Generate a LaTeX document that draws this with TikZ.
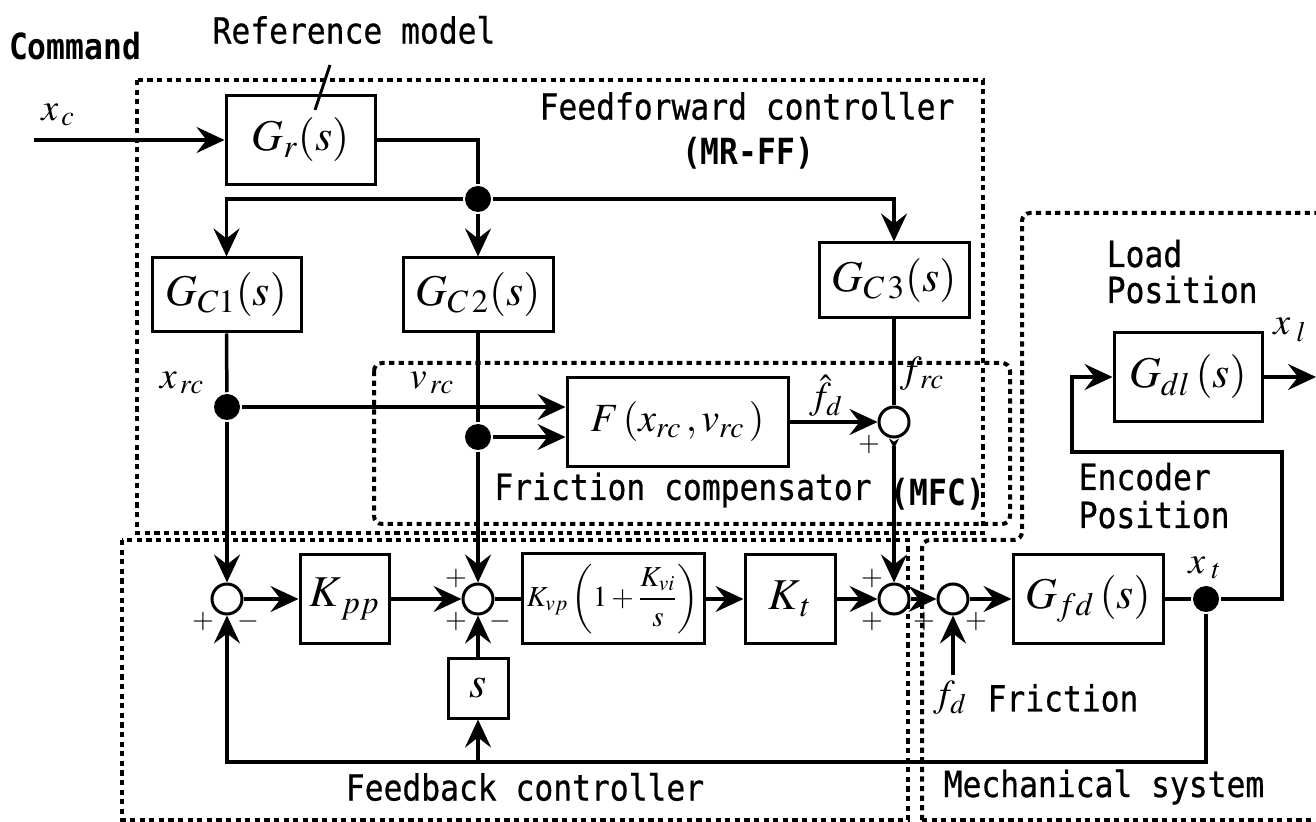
\documentclass[tikz,border=0pt]{standalone}
\usepackage{mathptmx}
\usepackage[no-math]{fontspec}
\newfontfamily\lab[FakeStretch=0.87,FakeBold=0.6]{DejaVu Sans Mono}
\newfontfamily\labb[FakeStretch=0.87]{DejaVu Sans Mono Bold}
\usetikzlibrary{arrows.meta}

\begin{document}
\begin{tikzpicture}[x=0.5pt,y=-0.5pt,line width=1.75pt,
    >={Stealth[length=14pt,width=13pt,inset=5pt]},
    blk/.style={draw,line width=1.5pt,inner sep=0pt,font=\fontsize{22}{26}\selectfont},
    sum/.style={draw,circle,fill=white,line width=1.5pt,minimum size=15pt,inner sep=0pt},
    dot/.style={fill,circle,minimum size=13pt,inner sep=0pt},
    grp/.style={line width=2pt,dash pattern=on 2.6pt off 2.2pt},
    lbl/.style={font=\fontsize{18}{19}\selectfont\lab,inner sep=0pt},
    lblb/.style={font=\fontsize{18}{19}\selectfont\labb,inner sep=0pt},
    var/.style={font=\fontsize{19}{22}\selectfont,inner sep=0pt},
    sgn/.style={font=\fontsize{14}{16}\selectfont,inner sep=0pt}]

\useasboundingbox (0,0) rectangle (1316,822);
\fill[white] (0,0) rectangle (1316,822);

\draw[grp] (137,80) rectangle (983,533);
\draw[grp,rounded corners=4pt] (374,363) rectangle (1010,524);
\draw[grp] (122,540) rectangle (908,820);
\draw[grp,rounded corners=4pt] (922,820) -- (922,540) -- (1022,540) -- (1022,213) -- (1320,213);
\draw[grp] (922,820) -- (1320,820);

\node[blk,minimum width=74.5pt,minimum height=44.5pt] (gr)  at (300.5,140) {$G_{r}(s)$};
\node[blk,minimum width=74.5pt,minimum height=37pt]   (gc1) at (226.5,295) {$G_{C1}(s)$};
\node[blk,minimum width=75pt,minimum height=37pt]     (gc2) at (478,295)   {$G_{C\,2}(s)$};
\node[blk,minimum width=75pt,minimum height=37.5pt]   (gc3) at (894,280.5) {$G_{C\,3}(s)$};
\node[blk,minimum width=110.5pt,minimum height=44.5pt,font=\fontsize{20}{24}\selectfont] (fr) at (677.5,422) {$F\,(x_{rc}\,,v_{rc}\,)$};
\node[blk,minimum width=44.5pt,minimum height=44.5pt] (kpp) at (344.5,599) {$K_{\,pp}$};
\node[blk,minimum width=91pt,minimum height=45pt,font=\fontsize{14.5}{17}\selectfont] (kvp) at (613,599) {$K_{vp}\left(1+\displaystyle\frac{K_{vi}}{s}\right)$};
\node[blk,minimum width=45pt,minimum height=44.5pt]   (kt)  at (790,599)   {$K_{\,t}$};
\node[blk,minimum width=75pt,minimum height=44.5pt]   (gfd) at (1088,599)  {$G_{fd}\,(s)$};
\node[blk,minimum width=74pt,minimum height=44.5pt]   (gdl) at (1188,377)  {$G_{dl}\,(s)$};
\node[blk,minimum width=30pt,minimum height=30pt]     (sb)  at (478,688)   {$s$};

\foreach \n/\x in {s1/227,s2/478,s3/894,s4/953}
    \node[sum] (\n) at (\x,599) {};
\node[sum] (s5) at (894,422) {};

\foreach \n/\x/\y in {d1/478/199,dxr/227/407,dvr/478/437,xt/1206/599}
    \node[dot] (\n) at (\x,\y) {};

\coordinate (xin) at (34,140);
\coordinate (xlo) at (1316,377);
\coordinate (fd)  at (953,675);
\coordinate (fbl) at (227,762);
\coordinate (e1)  at (1282,452);
\coordinate (e2)  at (1072,452);
\coordinate (p1)  at (330,65);
\coordinate (p2)  at (315,110);

\draw[->] (xin) -- (gr.west);
\draw (gr.east) -| (d1);
\draw[->] (d1) -| (gc1.north);
\draw[->] (d1) -- (gc2.north);
\draw[->] (d1) -| (gc3.north);
\draw (gc1.south) -- (dxr);
\draw (gc2.south) -- (dvr);
\draw[->] (dxr) -- (dxr -| fr.west);
\draw[->] (dvr) -- (dvr -| fr.west);
\draw[->] (dxr) -- (s1.north);
\draw[->] (dvr) -- (s2.north);
\draw[->] (fr.east) -- (s5.west);
\draw (gc3.south) -- (s5.north);
\draw[{Stealth[reversed,length=5pt,width=5pt]}->] (s5.south) -- (s3.north);
\draw[->] (s1) -- (kpp);
\draw[->] (kpp) -- (s2);
\draw (s2) -- (kvp);
\draw[->] (kvp) -- (kt);
\draw[->] (kt) -- (s3);
\draw[->] (s3) -- (s4);
\draw[->] (s4) -- (gfd);
\draw[->] (fd) -- (s4.south);
\draw (gfd) -- (xt);
\draw[->] (xt) |- (fbl) -- (s1.south);
\draw[->] (sb.south |- fbl) -- (sb.south);
\draw[->] (sb) -- (s2.south);
\draw[->] (xt) -| (e1) -- (e2) |- (gdl.west);
\draw[->] (gdl.east) -- (xlo);
\draw[line width=1.5pt] (p1) -- (p2);

\node[lblb] (cmd)  at (75,46)   {Command};
\node[lbl]  (refm) at (354,30)  {Reference model};
\node[lbl]  (ffc)  at (747,106) {Feedforward controller};
\node[lblb] (mrff) at (748,153) {(MR-FF)};
\node[lbl]  (fcomp) at (683,490) {Friction compensator};
\node[lblb] (mfc)  at (938,494) {(MFC)};
\node[lbl,anchor=base west] (load) at (1105,267) {Load};
\node[lbl,anchor=base west] (lpos) at (1105,303) {Position};
\node[lbl,anchor=base west] (enc)  at (1077,490) {Encoder};
\node[lbl,anchor=base west] (epos) at (1077,528) {Position};
\node[lbl] (fbc)  at (525,787)  {Feedback controller};
\node[lbl] (mech) at (1104,787) {Mechanical system};
\node[lbl] (fric) at (1063,698) {Friction};

\node[var] (vxc)  at (58,115)   {$x_{\,c}$};
\node[var] (vxrc) at (182,383)  {$x_{\,rc}$};
\node[var] (vvrc) at (432,383)  {$v_{\,rc}$};
\node[var] (vfh)  at (826,396)  {$\hat{f}_{d}$};
\node[var] (vfrc) at (922,374)  {$f_{\,rc}$};
\node[var] (vxt)  at (1205,568) {$x_{\;t}$};
\node[var] (vxl)  at (1290,330) {$x_{\;l}$};
\node[var] (vfd)  at (950,698)  {$f_{d}$};

\foreach \x/\y/\t [count=\i] in {203/622/+,248/622/-,456/579/+,456/622/+,500/622/-,
    872/579/+,872/622/+,924/622/+,976/622/+,869/445/+}
    \node[sgn] (sg\i) at (\x,\y) {$\t$};

\end{tikzpicture}
\end{document}
